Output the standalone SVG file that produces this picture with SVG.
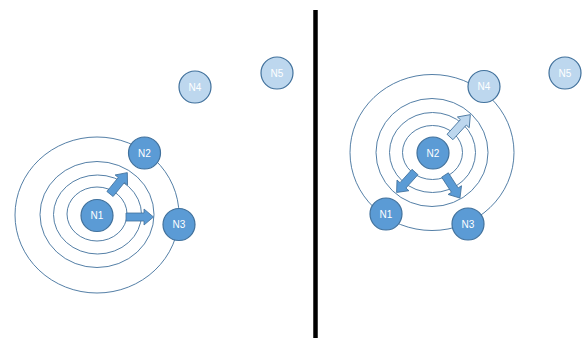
<svg xmlns="http://www.w3.org/2000/svg" width="585" height="338" viewBox="0 0 585 338">
<style>
.ring{fill:none;stroke:#41719c;stroke-width:0.9}
.dark{fill:#5b9bd5;stroke:#41719c;stroke-width:1.2}
.light{fill:#bdd7ee;stroke:#41719c;stroke-width:1.2}
.lbl{font-family:"Liberation Sans",Arial,sans-serif;font-size:10px;fill:#ffffff;text-anchor:middle;dominant-baseline:central}
.arrD{fill:#5b9bd5;stroke:#41719c;stroke-width:0.8}
.arrL{fill:#bdd7ee;stroke:#41719c;stroke-width:0.8}
</style>
<defs>
<path id="blk" d="M0,-4 H18 V-8 L27.5,0 L18,8 V4 H0 Z"/>
</defs>
<rect width="585" height="338" fill="#ffffff"/>
<line x1="315.5" y1="10" x2="315.5" y2="338" stroke="#000000" stroke-width="4.5"/>
<g id="rings-left">
<ellipse class="ring" cx="97" cy="215" rx="82" ry="78"/>
<ellipse class="ring" cx="97" cy="214.5" rx="57" ry="53"/>
<ellipse class="ring" cx="97.5" cy="214.5" rx="44" ry="39.5"/>
<ellipse class="ring" cx="97" cy="214" rx="30" ry="27"/>
</g>
<g id="rings-right">
<ellipse class="ring" cx="432" cy="152.5" rx="82" ry="78"/>
<ellipse class="ring" cx="432" cy="152.5" rx="56" ry="54"/>
<ellipse class="ring" cx="432.5" cy="152.5" rx="43" ry="40"/>
<ellipse class="ring" cx="432.5" cy="152.5" rx="30" ry="27"/>
</g>
<g id="connectors">
<use href="#blk" class="arrD" transform="translate(110,194) rotate(-51)"/>
<use href="#blk" class="arrD" transform="translate(126,217)"/>
<use href="#blk" class="arrL" transform="translate(450,137) rotate(-47.7) scale(1.1,1)"/>
<use href="#blk" class="arrD" transform="translate(415,172) rotate(132)"/>
<use href="#blk" class="arrD" transform="translate(445,175) rotate(57)"/>
</g>
<g id="L-N1"><circle class="dark" cx="97" cy="215.5" r="16"/><text class="lbl" x="97" y="215.5">N1</text></g>
<g id="L-N2"><circle class="dark" cx="144.5" cy="153" r="16"/><text class="lbl" x="144.5" y="153">N2</text></g>
<g id="L-N3"><circle class="dark" cx="179" cy="224.5" r="16"/><text class="lbl" x="179" y="224.5">N3</text></g>
<g id="L-N4"><circle class="light" cx="195" cy="87" r="16"/><text class="lbl" x="195" y="87">N4</text></g>
<g id="L-N5"><circle class="light" cx="277" cy="73" r="16"/><text class="lbl" x="277" y="73">N5</text></g>
<g id="R-N1"><circle class="dark" cx="386" cy="214" r="16"/><text class="lbl" x="386" y="214">N1</text></g>
<g id="R-N2"><circle class="dark" cx="433" cy="153" r="16"/><text class="lbl" x="433" y="153">N2</text></g>
<g id="R-N3"><circle class="dark" cx="468" cy="224" r="16"/><text class="lbl" x="468" y="224">N3</text></g>
<g id="R-N4"><circle class="light" cx="484" cy="86.5" r="16"/><text class="lbl" x="484" y="86.5">N4</text></g>
<g id="R-N5"><circle class="light" cx="565" cy="73" r="16"/><text class="lbl" x="565" y="73">N5</text></g>
</svg>
